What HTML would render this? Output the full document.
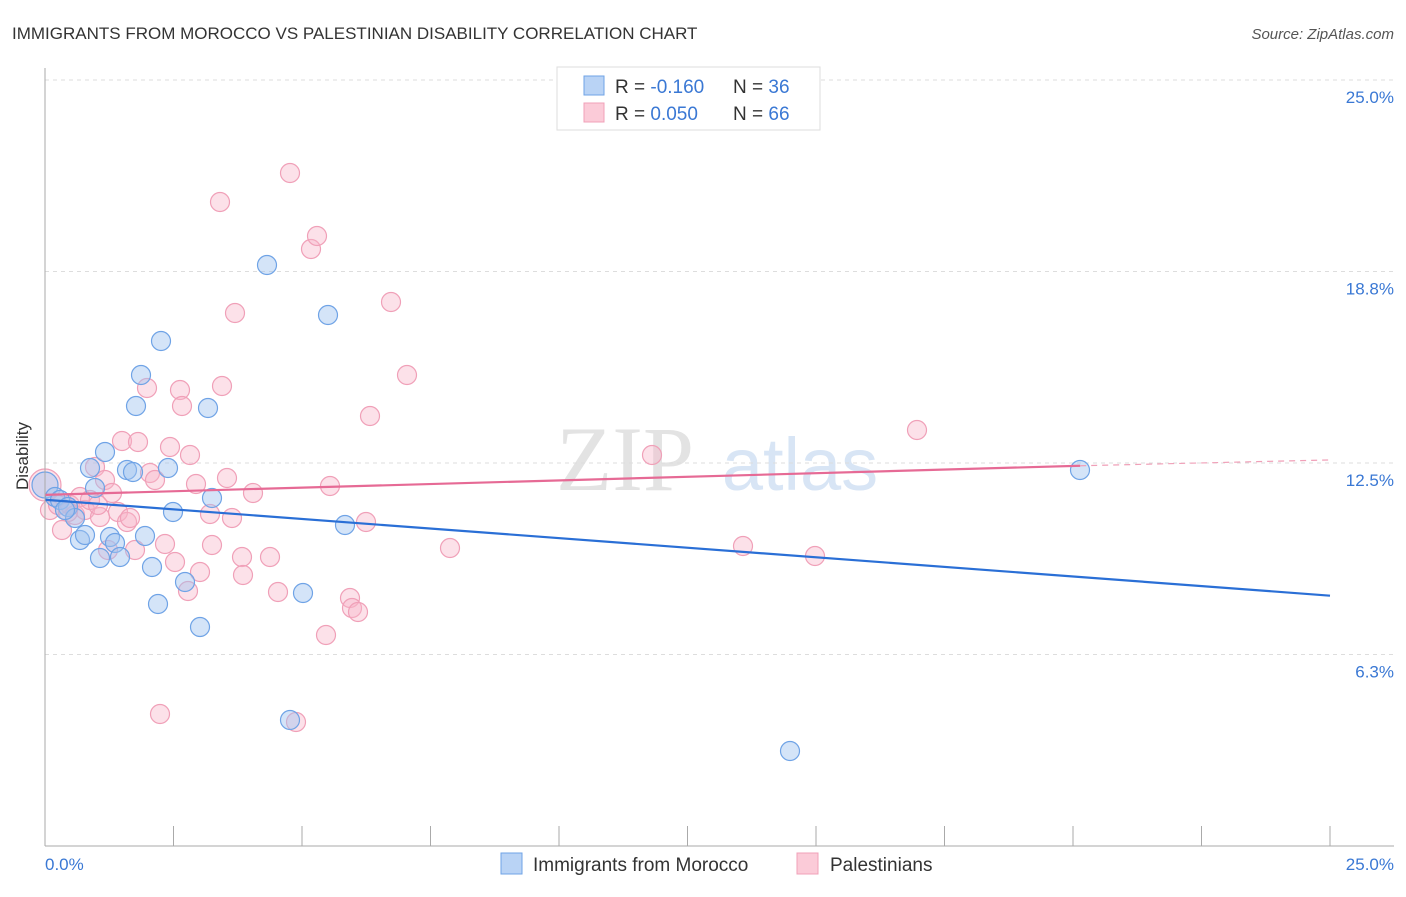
<!DOCTYPE html>
<html><head><meta charset="utf-8"><style>
body{margin:0;background:#fff;font-family:"Liberation Sans",sans-serif}
</style></head><body>
<svg width="1406" height="892" xmlns="http://www.w3.org/2000/svg" id="svg" style="font-family:'Liberation Sans',sans-serif">
<text x="12" y="39" font-size="17" fill="#333">IMMIGRANTS FROM MOROCCO VS PALESTINIAN DISABILITY CORRELATION CHART</text>
<text x="1394" y="39" font-size="15" fill="#555" text-anchor="end" font-style="italic">Source: ZipAtlas.com</text>
<text x="625" y="490" font-size="92" fill="#e3e3e3" font-family="Liberation Serif" text-anchor="middle">ZIP</text>
<text x="800" y="490" font-size="74" fill="#d8e5f5" text-anchor="middle">atlas</text>
<g id="grid"></g><g id="pts"></g><g id="lines"></g>
<line x1="45" y1="68" x2="45" y2="846" stroke="#aaa"/>
<line x1="45" y1="846" x2="1394" y2="846" stroke="#aaa"/>
<text x="28" y="456" font-size="17" fill="#333" text-anchor="middle" transform="rotate(-90 28 456)">Disability</text>
<text x="45" y="870" font-size="17" fill="#3a78d4">0.0%</text>
<text x="1394" y="870" font-size="17" fill="#3a78d4" text-anchor="end">25.0%</text>
<g>
<rect x="557" y="67" width="263" height="63" fill="#fff" stroke="#ddd"/>
<rect x="584" y="76" width="20" height="19" fill="#b9d3f5" stroke="#6fa3e6"/>
<rect x="584" y="103" width="20" height="19" fill="#fbcbd8" stroke="#f0a0b8"/>
<text x="615" y="93" font-size="19" fill="#333">R = <tspan fill="#3a78d4">-0.160</tspan><tspan x="733">N = </tspan><tspan fill="#3a78d4">36</tspan></text>
<text x="615" y="120" font-size="19" fill="#333">R = <tspan fill="#3a78d4"> 0.050</tspan><tspan x="733">N = </tspan><tspan fill="#3a78d4">66</tspan></text>
</g>
<g><rect x="501" y="853" width="21" height="21" fill="#b9d3f5" stroke="#6fa3e6"/><text x="533" y="871" font-size="19" fill="#333">Immigrants from Morocco</text></g>
<g><rect x="797" y="853" width="21" height="21" fill="#fbcbd8" stroke="#f0a0b8"/><text x="830" y="871" font-size="19" fill="#333">Palestinians</text></g>
</svg>
<script>
const yTicks=[25.0,18.75,12.5,6.25];
const yTickLabels=["25.0%","18.8%","12.5%","6.3%"];
const xTicks=[0,2.5,5,7.5,10,12.5,15,17.5,20,22.5,25];
const px=p=>(p-45)/1285*25, py=p=>(846-p)/766*25;
const bluePx=[[55,497],[60,500],[68,507],[75,518],[80,540],[85,535],[95,488],[100,558],[105,452],[90,468],[110,537],[115,543],[120,557],[127,470],[133,472],[136,406],[141,375],[145,536],[152,567],[158,604],[161,341],[168,468],[173,512],[185,582],[200,627],[208,408],[212,498],[267,265],[290,720],[303,593],[328,315],[345,525],[790,751],[1080,470],[65,510]];
const pinkPx=[[50,510],[58,505],[62,530],[70,505],[75,515],[80,497],[85,510],[90,500],[95,467],[100,517],[105,480],[108,550],[112,493],[118,512],[122,441],[127,522],[130,518],[135,550],[138,442],[147,388],[150,473],[155,480],[160,714],[165,544],[170,447],[175,562],[180,390],[182,406],[188,591],[190,455],[196,484],[200,572],[210,514],[212,545],[220,202],[222,386],[227,478],[232,518],[235,313],[242,557],[243,575],[253,493],[270,557],[278,592],[290,173],[296,722],[311,249],[317,236],[326,635],[330,486],[350,598],[352,608],[358,612],[366,522],[370,416],[391,302],[407,375],[450,548],[652,455],[743,546],[815,556],[917,430],[68,512],[98,505]];
const blueX=bluePx.map(p=>px(p[0])), blueY=bluePx.map(p=>py(p[1]));
const pinkX=pinkPx.map(p=>px(p[0])), pinkY=pinkPx.map(p=>py(p[1]));
const blueTrend=[[0,11.3],[25,8.17]];
const pinkTrend=[[0,11.46],[20.14,12.41],[25,12.6]];
const X=v=>45+v/25*1285, Y=v=>846-v/25*766;
const NS="http://www.w3.org/2000/svg";
function mk(t,a,parent){const e=document.createElementNS(NS,t);for(const k in a)e.setAttribute(k,a[k]);parent.appendChild(e);return e;}
const grid=document.getElementById('grid'),pts=document.getElementById('pts'),lines=document.getElementById('lines');
yTicks.forEach((v,i)=>{
 const l=mk('line',{x1:45,x2:1394,y1:Y(v),y2:Y(v),stroke:'#ddd','stroke-dasharray':'4 4'},grid);
 
 
 const t=mk('text',{x:1394,y:Y(v)+23,'font-size':17,fill:'#3a78d4','text-anchor':'end'},grid);
 t.textContent=yTickLabels[i];
 
 
});
xTicks.forEach(v=>{
 const l=mk('line',{x1:X(v),x2:X(v),y1:826,y2:846,stroke:'#aaa'},grid);
 
 
});
function dot(x,y,r,f,s,name){
 const c=mk('circle',{cx:X(x),cy:Y(y),r:r,fill:f,stroke:s,'stroke-width':1.2},pts);
 
 
}
dot(px(45),py(485),16,'rgba(248,180,200,0.4)','#f0a0b8','pink-point');
dot(px(45),py(485),13,'rgba(160,196,240,0.45)','#6fa3e6','blue-point');
pinkX.forEach((x,i)=>dot(x,pinkY[i],9.5,'rgba(248,180,200,0.4)','#f0a0b8','pink-point'));
blueX.forEach((x,i)=>dot(x,blueY[i],9.5,'rgba(160,196,240,0.45)','#6fa3e6','blue-point'));
let l=mk('line',{x1:X(blueTrend[0][0]),y1:Y(blueTrend[0][1]),x2:X(blueTrend[1][0]),y2:Y(blueTrend[1][1]),stroke:'#2a6fd6','stroke-width':2.2},lines);


l=mk('line',{x1:X(pinkTrend[0][0]),y1:Y(pinkTrend[0][1]),x2:X(pinkTrend[1][0]),y2:Y(pinkTrend[1][1]),stroke:'#e66a95','stroke-width':2.2},lines);


l=mk('line',{x1:X(pinkTrend[1][0]),y1:Y(pinkTrend[1][1]),x2:X(pinkTrend[2][0]),y2:Y(pinkTrend[2][1]),stroke:'#f0a0b8','stroke-width':1.2,'stroke-dasharray':'6 5'},lines);


</script>
</body></html>
